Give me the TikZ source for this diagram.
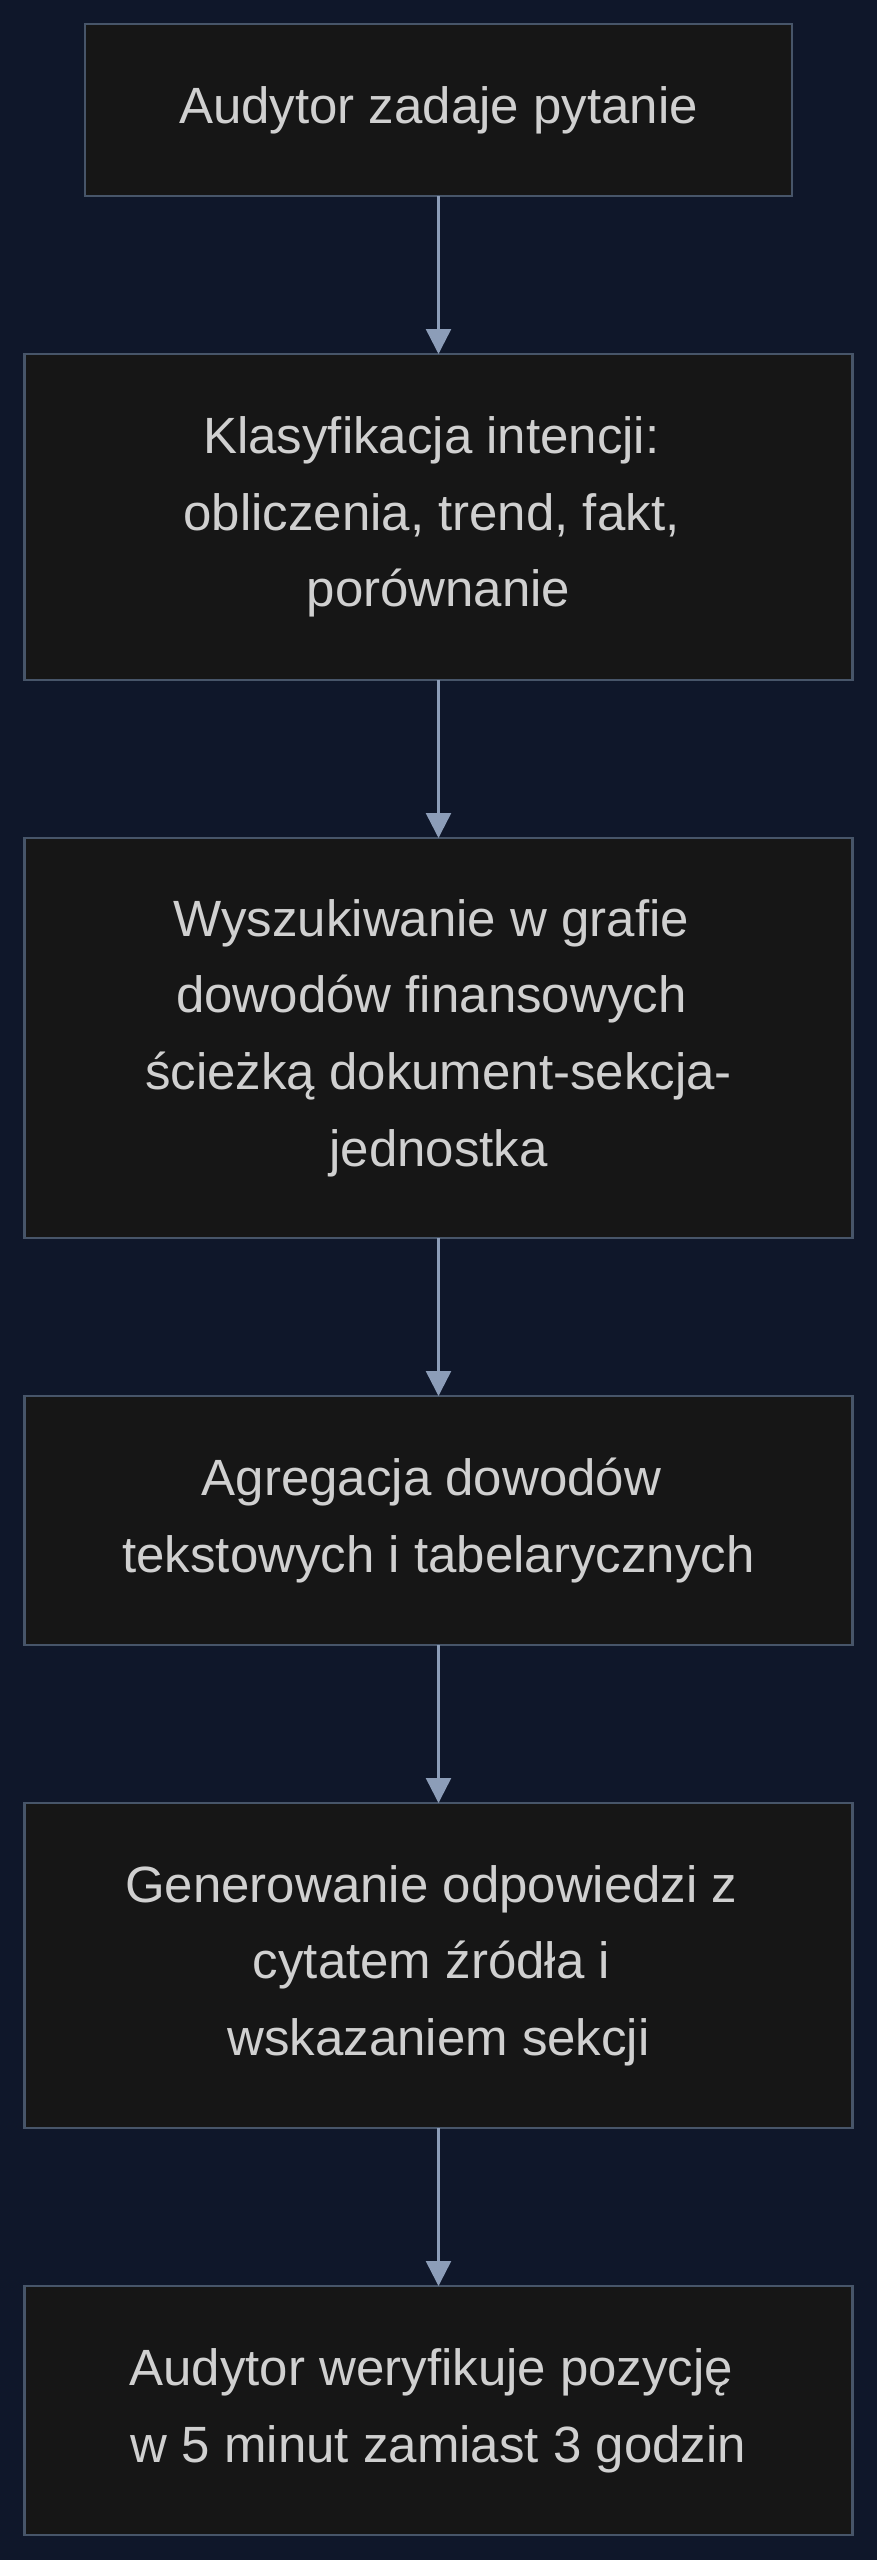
\documentclass[tikz,border=0pt]{standalone}
\usepackage{fontspec}
\setmainfont{Liberation Sans}
\usepackage{xcolor}
\usepackage{tikz}
\usetikzlibrary{positioning,arrows.meta}
\definecolor{bgnavy}{HTML}{0F172A}
\definecolor{boxfill}{HTML}{161616}
\definecolor{boxline}{HTML}{475569}
\definecolor{flowline}{HTML}{8C9DB8}
\definecolor{boxtext}{HTML}{D0D0D0}
\newcommand{\trail}{\hbox to 0.278em{}}

\begin{document}
\begin{tikzpicture}[x=1pt,y=1pt,node distance=158pt]
    \tikzstyle{stepbox}=[rectangle,draw=boxline,fill=boxfill,line width=2.5pt,outer sep=0pt,
        text=boxtext,align=center,minimum width=828pt,
        font=\fontsize{51}{76.6}\selectfont]
    \tikzstyle{flow}=[draw=flowline,line width=2.5pt,-{Triangle[length=25pt,width=25pt]}]

    \fill[bgnavy] (0,0) rectangle (877,-2560);
    \useasboundingbox (0,0) rectangle (877,-2560);

    \node[stepbox,minimum width=707pt,minimum height=172pt] (ask) at (438.5,-110) {Audytor zadaje pytanie};
    \node[stepbox,minimum height=326pt,below=of ask] (intent) {Klasyfikacja intencji:\trail\\obliczenia, trend, fakt,\trail\\porównanie};
    \node[stepbox,minimum height=400pt,below=of intent] (search) {Wyszukiwanie w grafie\trail\\dowodów finansowych\trail\\ścieżką dokument-sekcja-\\jednostka};
    \node[stepbox,minimum height=249pt,below=of search] (aggr) {Agregacja dowodów\trail\\tekstowych i tabelarycznych};
    \node[stepbox,minimum height=325pt,below=of aggr] (answer) {Generowanie odpowiedzi z\trail\\cytatem źródła i\trail\\wskazaniem sekcji};
    \node[stepbox,minimum height=249pt,below=of answer] (verify) {Audytor weryfikuje pozycję\trail\\w 5 minut zamiast 3 godzin};

    \foreach \a/\b in {ask/intent,intent/search,search/aggr,aggr/answer,answer/verify} {
        \draw[flow] (\a) -- (\b);
    };
\end{tikzpicture}
\end{document}
